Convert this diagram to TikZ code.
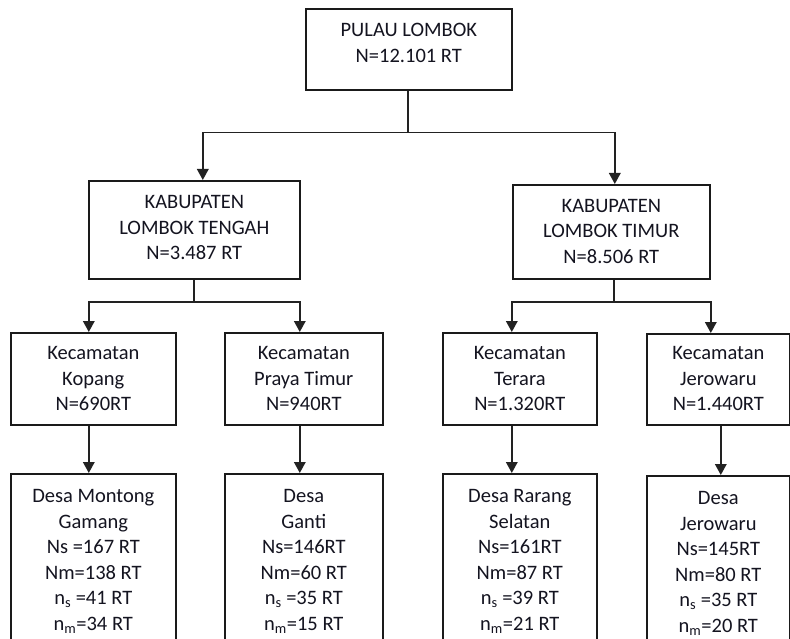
\documentclass[tikz,border=0pt]{standalone}
\usepackage{fontspec}
\setmainfont{Carlito}
\usetikzlibrary{arrows.meta,calc}
\definecolor{boxc}{HTML}{1A1A1A}
\definecolor{connc}{HTML}{222222}
\definecolor{txtc}{HTML}{141420}
\newcommand{\bx}[4][28pt]{\parbox[c][#3][t]{#2}{\centering\rule{0pt}{#1}#4\par}}
\tikzset{
  box/.style={draw=boxc, line width=1.6pt, inner sep=0pt, anchor=north west, text=txtc,
              font=\fontsize{20.5}{25.5}\selectfont},
  conn/.style={draw=connc, line width=1.8pt},
  arr/.style={conn, -{Triangle[width=11.5pt,length=11pt]}}
}
\begin{document}
\begin{tikzpicture}[x=1pt,y=-1pt]
\clip (0,0) rectangle (790,639);
\fill[white] (0,0) rectangle (790,639);
% top
\node[box] (top) at (305,8) {\bx{206pt}{81pt}{PULAU LOMBOK\\N=12.101 RT}};
% kabupaten
\node[box] (kabL) at (88,180) {\bx{211pt}{98pt}{KABUPATEN\\LOMBOK TENGAH\\N=3.487 RT}};
\node[box] (kabR) at (512,184) {\bx[27.7pt]{197pt}{94pt}{KABUPATEN\\LOMBOK TIMUR\\N=8.506 RT}};
% kecamatan
\node[box] (kop) at (10,332) {\bx[27pt]{165pt}{92pt}{Kecamatan\\Kopang\\N=690RT}};
\node[box] (pra) at (224,332) {\bx[27pt]{158pt}{92pt}{Kecamatan\\Praya Timur\\N=940RT}};
\node[box] (ter) at (442,332) {\bx[27pt]{154pt}{92pt}{Kecamatan\\Terara\\N=1.320RT}};
\node[box] (jer) at (646,333) {\bx[26pt]{143pt}{91pt}{Kecamatan\\Jerowaru\\N=1.440RT}};
% desa
\node[box] (dkop) at (10,473) {\bx[29pt]{165pt}{187pt}{Desa Montong\\Gamang\\Ns =167 RT\\Nm=138 RT\\n\textsubscript{s} =41 RT\\n\textsubscript{m}=34 RT}};
\node[box] (dpra) at (224,473) {\bx[29pt]{158pt}{187pt}{Desa\\Ganti\\Ns=146RT\\Nm=60 RT\\n\textsubscript{s} =35 RT\\n\textsubscript{m}=15 RT}};
\node[box] (dter) at (442,473) {\bx[29pt]{154pt}{187pt}{Desa Rarang\\Selatan\\Ns=161RT\\Nm=87 RT\\n\textsubscript{s} =39 RT\\n\textsubscript{m}=21 RT}};
\node[box] (djer) at (646,475) {\bx[29pt]{143pt}{185pt}{Desa\\Jerowaru\\Ns=145RT\\Nm=80 RT\\n\textsubscript{s} =35 RT\\n\textsubscript{m}=20 RT}};
% connectors top -> kabupaten
\draw[conn] ([xshift=-1pt]top.south) -- ++(0,42) coordinate (j1);
\draw[arr] (j1) -| ([xshift=8.5pt]kabL.north);
\draw[arr] (j1) -| ([xshift=3.5pt]kabR.north);
% kabL -> kecamatan
\draw[conn] (kabL.south) -- ++(0,22) coordinate (j2);
\draw[arr] (j2) -| ([xshift=-4.5pt]kop.north);
\draw[arr] (j2) -| ([xshift=-4pt]pra.north);
% kabR -> kecamatan
\draw[conn] ([xshift=2.5pt]kabR.south) -- ++(0,22) coordinate (j3);
\draw[arr] (j3) -| ([xshift=-8pt]ter.north);
\draw[arr] (j3) -| ([xshift=-7.5pt]jer.north);
% kecamatan -> desa
\draw[arr] ([xshift=-4.5pt]kop.south) -- ([xshift=-4.5pt]dkop.north);
\draw[arr] ([xshift=-4pt]pra.south) -- ([xshift=-4pt]dpra.north);
\draw[arr] ([xshift=-8pt]ter.south) -- ([xshift=-8pt]dter.north);
\draw[arr] ([xshift=2.5pt]jer.south) -- ([xshift=2.5pt]djer.north);
\end{tikzpicture}
\end{document}
